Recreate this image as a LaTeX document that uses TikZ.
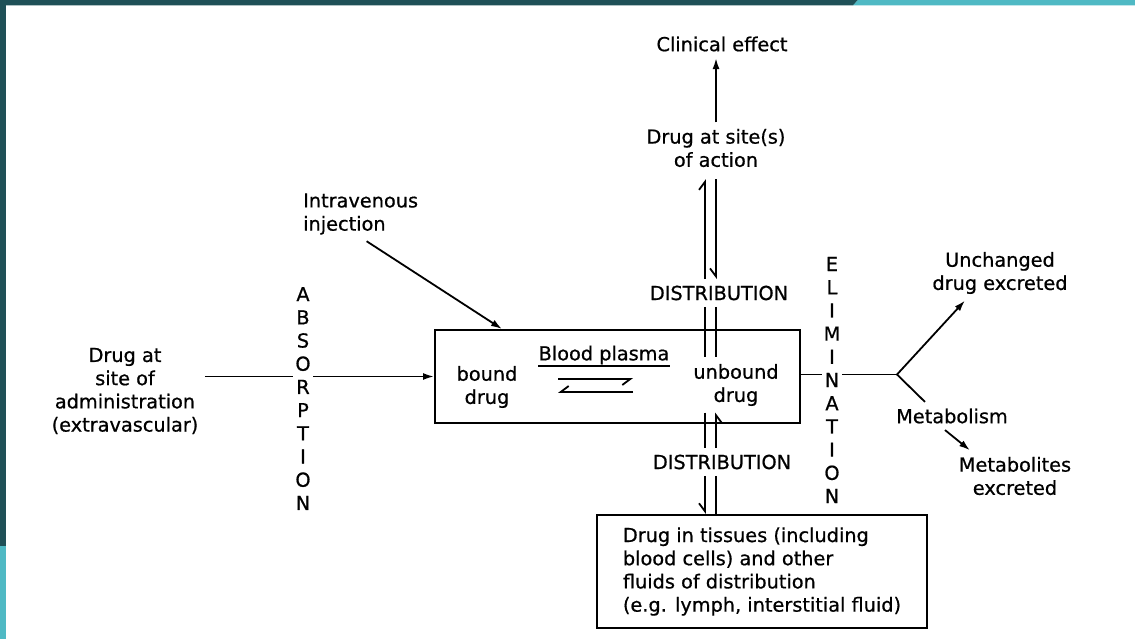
\documentclass[tikz,border=0pt]{standalone}
\usepackage{fontspec}
\setmainfont[FakeBold=0.7]{DejaVu Sans}
\usetikzlibrary{arrows.meta,calc}
\definecolor{frameDark}{HTML}{1F5057}
\definecolor{frameCyan}{HTML}{4FB9C4}
\begin{document}
\begin{tikzpicture}[x=1pt,y=-1pt,
 txt/.style={font=\fontsize{19.3}{23.2}\selectfont, align=center, inner sep=6.4pt},
 col/.style={font=\fontsize{19.3}{23.2}\selectfont, align=center, fill=white, inner sep=2pt},
 ln/.style={line width=1.8pt},
 arr/.style={ln, -{Latex[length=11pt,width=7pt]}},
 hl/.style={ln, -{Straight Barb[left,length=8pt,width=12pt]}},
 hr/.style={ln, -{Straight Barb[right,length=8pt,width=12pt]}},
 boxst/.style={draw, line width=2pt, inner sep=0pt}]
\fill[white] (0,0) rectangle (1135,639);
\useasboundingbox (0,0) rectangle (1135,639);
\fill[frameDark] (0,0) rectangle (6,546);
\fill[frameCyan] (0,546) rectangle (6,639);
\fill[frameDark] (0,0) -- (858,0) -- (853,5.5) -- (0,5.5) -- cycle;
\fill[frameCyan] (858,0) -- (1135,0) -- (1135,5.5) -- (853,5.5) -- cycle;

\node[txt] (clin) at (722,44) {Clinical effect};
\node[txt] (site) at (716,148) {Drug at site(s)\\of action};
\node[txt] (dist1) at (719,293) {DISTRIBUTION};
\node[boxst, minimum width=365pt, minimum height=93pt] (box) at (617.5,376.5) {};
\node[txt] (bound) at (487,387) {bound\\drug};
\node[txt, inner xsep=0pt, inner ysep=1.5pt] (plasma) at (604,355) {Blood plasma};
\node[txt] (unbound) at (736,385) {unbound\\drug};
\node[txt] (dist2) at (722,462) {DISTRIBUTION};
\node[txt, boxst, align=left, minimum width=330pt, minimum height=113pt] (tissue) at (762,571.5) {Drug in tissues (including\\blood cells) and other\\fluids of distribution\\(e.g. lymph, interstitial fluid)};
\node[txt] (adm) at (125,391) {Drug at\\site of\\administration\\(extravascular)};
\node[txt, align=left, anchor=west] (iv) at (296.6,214) {Intravenous\\injection};
\node[txt] (unch) at (1000,273) {Unchanged\\drug excreted};
\node[txt] (metab) at (952,416) {Metabolism};
\node[txt] (mets) at (1015,476) {Metabolites\\excreted};

\coordinate (br) at (897,374.5);
\coordinate (L) at (705,0);
\coordinate (R) at (716,0);
\coordinate (eq1a) at (558,379);
\coordinate (eq1b) at (633,379);
\coordinate (eq2a) at (633,392);
\coordinate (eq2b) at (558,392);

\draw[arr] (site.north) -- (site.north |- clin.south);
\draw[hl, shorten >=5.5pt] (dist1.north -| L) -- (site.south -| L);
\draw[hr, shorten <=5.5pt] (site.south -| R) -- (dist1.north -| R);
\draw[ln] (dist1.south -| L) -- (unbound.north -| L);
\draw[ln] (dist1.south -| R) -- (unbound.north -| R);
\draw[ln] (unbound.south -| L) -- (dist2.north -| L);
\draw[hr] (dist2.north -| R) -- (unbound.south -| R);
\draw[hr] (dist2.south -| L) -- (tissue.north -| L);
\draw[ln] (dist2.south -| R) -- (tissue.north -| R);

\draw[hr] (eq1a) -- (eq1b);
\draw[hr] (eq2a) -- (eq2b);
\draw[line width=1.2pt] (plasma.south west) -- (plasma.south east);

\draw[arr] (adm.east |- box.west) -- (box.west);
\node[col] (abs) at (303,398.5) {A\\B\\S\\O\\R\\P\\T\\I\\O\\N};
\draw[arr] ([xshift=6pt]iv.south) -- ([xshift=-115.5pt]box.north);

\draw[ln] (box.east |- br) -- (br);
\node[col] (elim) at (832,380) {E\\L\\I\\M\\I\\N\\A\\T\\I\\O\\N};
\draw[arr] (br) -- ([xshift=-35pt]unch.south);
\draw[ln] (br) -- ([xshift=-27pt]metab.north);
\draw[arr] ([xshift=-7pt]metab.south) -- ([xshift=-45pt]mets.north);
\end{tikzpicture}
\end{document}
